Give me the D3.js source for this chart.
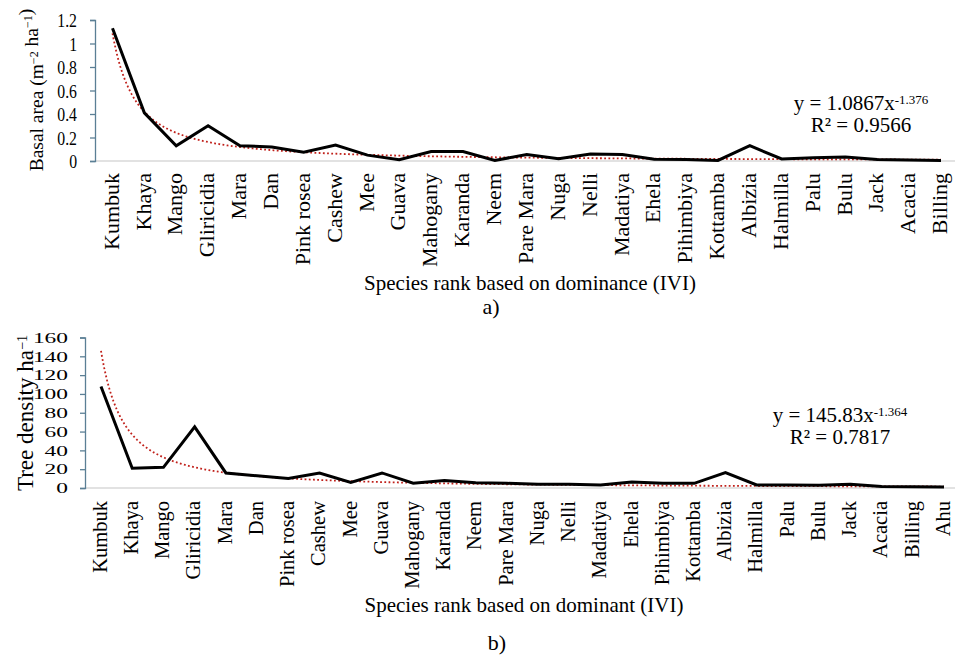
<!DOCTYPE html>
<html><head><meta charset="utf-8">
<script src="https://cdn.jsdelivr.net/npm/d3@7"></script>
<style>
body{margin:0;background:#fff}
svg{display:block}
text{font-family:"Liberation Serif","Times New Roman",serif;fill:#000}
</style>
</head><body>
<svg id="chart" width="955" height="655"></svg>
<script>
// ---------- data ----------
const speciesA = ["Kumbuk","Khaya","Mango","Gliricidia","Mara","Dan","Pink rosea","Cashew","Mee","Guava",
  "Mahogany","Karanda","Neem","Pare Mara","Nuga","Nelli","Madatiya","Ehela","Pihimbiya","Kottamba",
  "Albizia","Halmilla","Palu","Bulu","Jack","Acacia","Billing"];
const basalArea = [1.13,0.41,0.13,0.30,0.13,0.12,0.075,0.135,0.05,0.01,
  0.08,0.08,0.005,0.055,0.02,0.06,0.055,0.015,0.012,0.005,
  0.13,0.018,0.028,0.035,0.012,0.008,0.004];
const basalTicks = [0,0.2,0.4,0.6,0.8,1,1.2];
const basalFit = {a:1.0867, b:-1.376, r2:"0.9566", aText:"1.0867", bText:"-1.376"};

const speciesB = ["Kumbuk","Khaya","Mango","Gliricidia","Mara","Dan","Pink rosea","Cashew","Mee","Guava",
  "Mahogany","Karanda","Neem","Pare Mara","Nuga","Nelli","Madatiya","Ehela","Pihimbiya","Kottamba",
  "Albizia","Halmilla","Palu","Bulu","Jack","Acacia","Billing","Ahu"];
const treeDensity = [108,21,22,65,16,13,10,16,6,16,
  5,8,5.5,5,4,4,3.2,6.4,5,5,
  16.3,3.2,3.2,3,4,1.5,1.2,1];
const densityTicks = [0,20,40,60,80,100,120,140,160];
const densityFit = {a:145.83, b:-1.364, r2:"0.7817", aText:"145.83", bText:"-1.364"};

// ---------- drawing ----------
const svg = d3.select("#chart");
const axisColor = "#5b7f95";

function panel(cfg){
  const g = svg.append("g");
  const y = d3.scaleLinear().domain(cfg.yDomain).range([cfg.y0, cfg.y1]);
  const x = d3.scalePoint().domain(cfg.cats).range([cfg.xFirst, cfg.xLast]);
  const xi = d3.scaleLinear().domain([0, cfg.cats.length-1]).range([cfg.xFirst, cfg.xLast]);

  // horizontal category axis line
  g.append("line").attr("x1", cfg.axisX).attr("x2", 955)
    .attr("y1", cfg.y0).attr("y2", cfg.y0)
    .attr("stroke", "#d9d9d9").attr("stroke-width", 1.3);

  // y axis
  const ya = g.append("g").attr("transform", `translate(${cfg.axisX},0)`)
    .call(d3.axisLeft(y).tickValues(cfg.ticks).tickSize(5).tickFormat(d3.format("~g")));
  ya.select(".domain").attr("stroke", axisColor).attr("stroke-width", 1.3);
  ya.selectAll(".tick line").attr("stroke", axisColor).attr("stroke-width", 1.3);
  ya.selectAll(".tick text")
    .attr("font-family", '"Liberation Serif","Times New Roman",serif')
    .attr("font-size", cfg.tickFont).attr("fill", "#111")
    .attr("x", -cfg.tickOffset / cfg.tickScale[0])
    .attr("y", 0)
    .attr("dy", "0.34em")
    .attr("transform", `scale(${cfg.tickScale[0]},${cfg.tickScale[1]})`);

  // category labels
  g.selectAll("text.cat").data(cfg.cats).join("text")
    .attr("class", "cat")
    .attr("transform", d => `translate(${x(d)},${cfg.y0 + cfg.labelGap}) rotate(-90)`)
    .attr("text-anchor", "end").attr("dy", "0.28em")
    .attr("font-size", cfg.catFont)
    .text(d => d);

  // fitted power trend (from the displayed equation)
  const steps = d3.range(0, cfg.cats.length - 1 + 1e-9, 0.05);
  g.append("path")
    .datum(steps)
    .attr("fill", "none").attr("stroke", "#c0201a").attr("stroke-width", 1.8)
    .attr("stroke-dasharray", "1.8,2.4")
    .attr("d", d3.line().x(i => xi(i)).y(i => y(cfg.fit.a * Math.pow(i + 1, cfg.fit.b))));

  // data line
  g.append("path")
    .datum(cfg.values)
    .attr("fill", "none").attr("stroke", "#000").attr("stroke-width", 3)
    .attr("stroke-linejoin", "miter")
    .attr("d", d3.line().x((d, i) => x(cfg.cats[i])).y(d => y(d)));

  // y title
  const yt = g.append("text")
    .attr("transform", `translate(${cfg.yTitleX},${cfg.yTitleY}) rotate(-90)`)
    .attr("text-anchor", "middle").attr("font-size", cfg.yTitleFont);
  cfg.yTitle.forEach(p => {
    if (p.sup) {
      yt.append("tspan").attr("dy", "-0.45em").attr("font-size", "0.62em").text(p.sup);
      yt.append("tspan").attr("dy", "0.28em").text("");
    } else {
      yt.append("tspan").text(p.t);
    }
  });

  // x title
  g.append("text").attr("x", cfg.xTitleX).attr("y", cfg.xTitleY)
    .attr("text-anchor", "middle").attr("font-size", 21).text(cfg.xTitle);
  // panel label
  g.append("text").attr("x", cfg.panelX).attr("y", cfg.panelY)
    .attr("text-anchor", "middle").attr("font-size", 22).text(cfg.panel);

  // equation
  const eq = g.append("text").attr("x", cfg.eqX).attr("y", cfg.eqY)
    .attr("text-anchor", "middle").attr("font-size", 21);
  eq.append("tspan").text(`y = ${cfg.fit.aText}x`);
  eq.append("tspan").attr("dy", "-0.45em").attr("font-size", "0.62em").text(cfg.fit.bText);
  g.append("text").attr("x", cfg.eqX).attr("y", cfg.eqY + 22)
    .attr("text-anchor", "middle").attr("font-size", 21)
    .text(`R² = ${cfg.fit.r2}`);
}

panel({
  cats: speciesA, values: basalArea, ticks: basalTicks, yDomain: [0, 1.2],
  y0: 161, y1: 20, axisX: 95, xFirst: 112.5, xLast: 941,
  tickFont: 17.5, tickScale: [0.9, 1.1], tickOffset: 18,
  catFont: 22, labelGap: 12,
  yTitle: [{t:"Basal area (m"},{sup:"−2"},{t:" ha"},{sup:"−1"},{t:")"}],
  yTitleX: 43, yTitleY: 90, yTitleFont: 19.5,
  xTitle: "Species rank based on dominance (IVI)", xTitleX: 530, xTitleY: 290,
  panel: "a)", panelX: 491, panelY: 314,
  fit: basalFit, eqX: 861, eqY: 110
});

panel({
  cats: speciesB, values: treeDensity, ticks: densityTicks, yDomain: [0, 160],
  y0: 488, y1: 337.5, axisX: 85, xFirst: 101, xLast: 944,
  tickFont: 19.5, tickScale: [1.2, 0.72], tickOffset: 17,
  catFont: 20.5, labelGap: 13,
  yTitle: [{t:"Tree density ha"},{sup:"−1"}],
  yTitleX: 33, yTitleY: 413, yTitleFont: 23,
  xTitle: "Species rank based on dominant (IVI)", xTitleX: 524, xTitleY: 612,
  panel: "b)", panelX: 497, panelY: 650,
  fit: densityFit, eqX: 840, eqY: 422
});
</script>
</body></html>
